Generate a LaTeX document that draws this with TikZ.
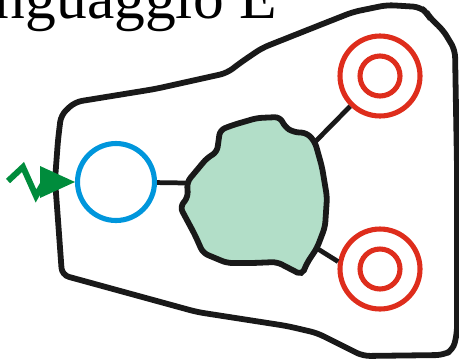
\documentclass[tikz,border=0pt]{standalone}
\usepackage{fontspec}
\setmainfont{Liberation Serif}
\definecolor{portblue}{RGB}{0,150,220}
\definecolor{blobgreen}{RGB}{178,222,200}
\definecolor{arrgreen}{RGB}{0,140,60}
\definecolor{ringred}{RGB}{222,45,28}
\tikzset{port/.style={circle,draw=portblue,line width=2.9pt,minimum size=1.54cm,inner sep=0pt},
	target/.style={circle,draw=ringred,line width=2.9pt,minimum size=1.6cm,inner sep=0pt,
		path picture={\draw[ringred,line width=2.9pt] (path picture bounding box.center) circle (0.4cm);}},
	wire/.style={draw,line width=2.7pt,black!90},
	outline/.style={draw=black!90,line width=3.3pt,rounded corners=4pt},
	blob/.style={draw=black!90,fill=blobgreen,line width=3.3pt,rounded corners=3pt}}

\begin{document}
\begin{tikzpicture}[x=0.02cm,y=-0.02cm]
\useasboundingbox (0,0) rectangle (459,359);
\clip (0,0) rectangle (459,359);
\node[anchor=base east,inner sep=0pt,font=\fontsize{35}{40}\selectfont] (title) at (277,18) {Linguaggio E};
\draw[outline] (61,115) -- (75,102) -- (155,89) -- (227,73) -- (240,63) -- (262,48) -- (320,25)
  -- (353,12) -- (387,5) -- (420,7) -- (427,13) -- (430,18) -- (443,30) -- (455,50)
  -- (457,167) -- (457,333) -- (453,350) -- (443,355) -- (363,356) -- (317,333) -- (287,326)
  -- (197,312) -- (62,275) -- (58,220) -- (55,180) -- (58,140) -- cycle;
\draw[blob] (220,130) -- (233,125) -- (257,118) -- (280,117) -- (285,127) -- (293,132) -- (307,133)
  -- (315,142) -- (322,167) -- (327,197) -- (325,227) -- (317,248) -- (307,263) -- (302,275)
  -- (277,262) -- (253,263) -- (227,263) -- (203,253) -- (195,235) -- (180,207) -- (188,197)
  -- (187,182) -- (207,158) -- (217,152) -- cycle;
\coordinate (ba) at (187,183);
\coordinate (bb) at (315,142);
\coordinate (bc) at (318,249);
\node[port] (inp) at (116,182) {};
\node[target] (outa) at (380,76) {};
\node[target] (outb) at (380,269) {};
\draw[wire] (inp) -- (ba);
\draw[wire] (bb) -- (outa);
\draw[wire] (bc) -- (outb.170);
\coordinate (zz) at (8,181);
\draw[arrgreen,line width=3.4pt,miter limit=4] (zz) -- (23,167) -- (36,196) -- (44,182);
\fill[arrgreen] (40,166) -- (inp.west) -- (40,198) -- cycle;
\end{tikzpicture}
\end{document}
